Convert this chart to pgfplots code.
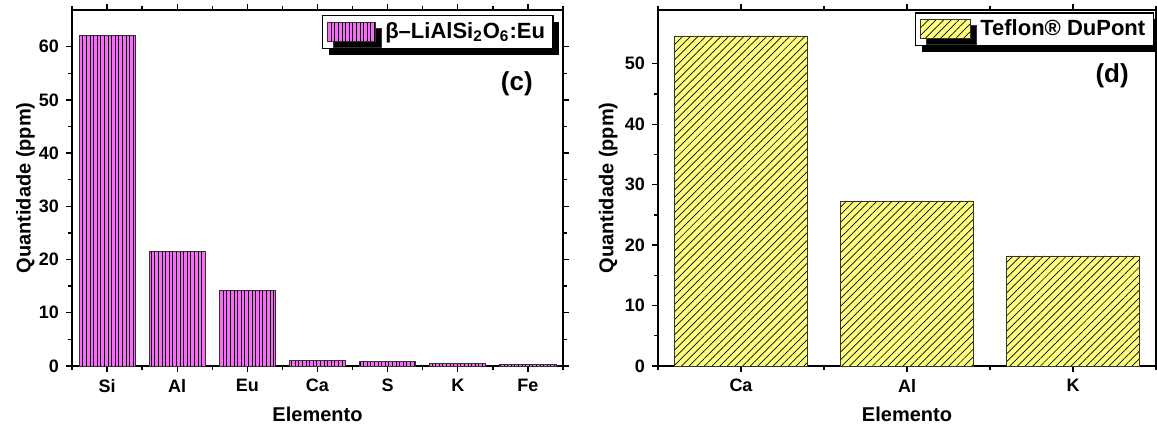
\documentclass[border=0pt]{standalone}
\usepackage{fontspec}
\setmainfont{Liberation Sans}
\usepackage{pgfplots}
\pgfplotsset{compat=1.18}
\usetikzlibrary{patterns.meta, shadows}

\definecolor{barpink}{RGB}{250,105,250}
\definecolor{baryellow}{RGB}{255,255,128}

\pgfplotsset{
  barleg/.style={legend image code/.code={%
    \draw[##1] (0pt,-4.75pt) rectangle (#1,4.75pt);
    \path (#1,0pt) ++(3pt,0pt);}},
  panel/.style={
    scale only axis,
    height=178pt,
    ymin=0,
    ybar, bar width=0.8,
    axis line style={line width=0.8pt},
    tick align=outside,
    major tick length=3pt, minor tick length=1.8pt,
    every tick/.style={black, line width=0.7pt},
    xtick=data,
    minor y tick num=1,
    tick label style={font=\fontsize{9}{10}\selectfont\bfseries},
    /pgf/number format/assume math mode=true,
    every axis x label/.style={at={(axis description cs:0.5,-0.135)}, anchor=center,
      font=\fontsize{10}{12}\selectfont\bfseries},
    xlabel={Elemento}, ylabel={Quantidade (ppm)},
    legend cell align=left,
    legend style={draw=black, line width=0.6pt, fill=white,
      font=\fontsize{11}{13}\selectfont\bfseries,
      inner xsep=2pt, inner ysep=1.5pt,
      drop shadow={shadow xshift=3pt, shadow yshift=-3pt, fill=black, opacity=1}},
  }
}

\begin{document}
\begin{tikzpicture}

% (c) LiAlSi2O6:Eu
\begin{axis}[panel,
  at={(36pt,31.5pt)}, anchor=south west,
  width=245.5pt,
  ymax=66.9,
  xmin=-0.5, xmax=6.5,
  xticklabels={Si,Al,Eu,Ca,S,K,Fe},
  minor xtick={-0.5,0.5,...,6.5},
  ytick={0,10,...,60},
  every axis y label/.style={at={(axis description cs:-0.095,0.5)}, rotate=90, anchor=center,
    font=\fontsize{10}{12}\selectfont\bfseries},
  legend style={at={(0.509,0.986)}, anchor=north west},
]
\addplot[draw=black!80, line width=0.4pt, fill=barpink,
  postaction={pattern={Lines[angle=90, distance=1.8pt, line width=0.35pt]}},
  barleg=24pt]
  coordinates {(0,62.1) (1,21.5) (2,14.2) (3,1.0) (4,0.8) (5,0.4) (6,0.35)};
\addlegendentry{β–LiAlSi\textsubscript{2}O\textsubscript{6}:Eu}
\node[font=\fontsize{13}{15}\selectfont\bfseries] at (rel axis cs:0.906,0.792) {(c)};
\end{axis}

% (d) Teflon
\begin{axis}[panel,
  at={(329pt,31.5pt)}, anchor=south west,
  width=249pt,
  ymax=58.9,
  xmin=-0.5, xmax=2.5,
  xticklabels={Ca,Al,K},
  minor xtick={-0.5,0.5,...,2.5},
  ytick={0,10,...,50},
  every axis y label/.style={at={(axis description cs:-0.1,0.5)}, rotate=90, anchor=center,
    font=\fontsize{10}{12}\selectfont\bfseries},
  legend style={at={(0.516,0.9935)}, anchor=north west},
]
\addplot[draw=black!80, line width=0.4pt, fill=baryellow,
  postaction={pattern={Lines[angle=45, distance=2.7pt, line width=0.35pt]}},
  barleg=25pt]
  coordinates {(0,54.6) (1,27.3) (2,18.2)};
\addlegendentry{Teflon® DuPont}
\node[font=\fontsize{13}{15}\selectfont\bfseries] at (rel axis cs:0.912,0.816) {(d)};
\end{axis}

\pgfresetboundingbox
\useasboundingbox (0,0) rectangle (578.5pt,214.5pt);
\end{tikzpicture}
\end{document}
